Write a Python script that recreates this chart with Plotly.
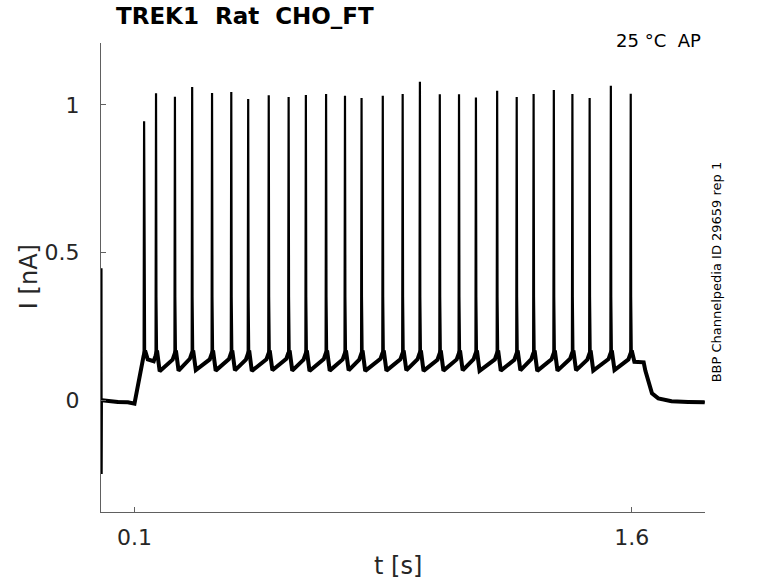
import plotly.graph_objects as go

# ---- data ----
# initial capacitive transient and pre-step baseline
pre_t = [0.0004, 0.0009, 0.0016, 0.02, 0.05, 0.08, 0.1]
pre_i = [0.447, -0.25, 0.0, -0.003, -0.006, -0.007, -0.012]

# action-potential peaks
spike_t = [0.129, 0.165, 0.222, 0.274, 0.334, 0.392, 0.443, 0.505, 0.565,
           0.617, 0.678, 0.735, 0.785, 0.849, 0.909, 0.961, 1.021, 1.079,
           1.130, 1.194, 1.253, 1.304, 1.365, 1.421, 1.473, 1.537, 1.597]
spike_peak = [0.945, 1.040, 1.028, 1.061, 1.041, 1.044, 1.020, 1.033, 1.027,
              1.034, 1.037, 1.031, 1.024, 1.031, 1.037, 1.079, 1.036, 1.036,
              1.025, 1.048, 1.027, 1.037, 1.051, 1.037, 1.024, 1.065, 1.038]
# current level just after each spike (after-hyperpolarisation trough)
spike_trough = [0.138, 0.098, 0.100, 0.102, 0.100, 0.101, 0.099, 0.101, 0.100,
                0.099, 0.100, 0.101, 0.099, 0.100, 0.101, 0.099, 0.100, 0.101,
                0.099, 0.100, 0.101, 0.099, 0.100, 0.101, 0.100, 0.102, 0.130]
# level reached just before each spike
spike_base = [0.150, 0.150, 0.155, 0.158, 0.156, 0.157, 0.155, 0.156, 0.158,
              0.155, 0.157, 0.156, 0.155, 0.158, 0.156, 0.157, 0.155, 0.156,
              0.157, 0.156, 0.155, 0.157, 0.156, 0.158, 0.155, 0.157, 0.156]

# step offset / decay back to baseline
post_t = [1.636, 1.641, 1.650, 1.661, 1.680, 1.720, 1.770, 1.820]
post_i = [0.128, 0.100, 0.068, 0.023, 0.006, -0.004, -0.006, -0.007]

x_ticks = [0.1, 1.6]
x_tick_text = ["0.1", "1.6"]
y_ticks = [0, 0.5, 1]
y_tick_text = ["0", "0.5", "1"]

title_text = "TREK1\u00a0\u00a0Rat\u00a0\u00a0CHO_FT"
temp_text = "25 °C\u00a0\u00a0AP"
side_text = "BBP Channelpedia ID 29659 rep 1"

# ---- assemble the trace from the read values ----
xs = list(pre_t)
ys = list(pre_i)
# baseline-only copy (no spike tips), drawn thicker to mimic the recording noise band
bx = list(pre_t[2:])
by = list(pre_i[2:])
n = len(spike_t)
for k in range(n):
    t = spike_t[k]
    if k > 0:
        xs += [t - 0.007]
        ys += [spike_base[k] - 0.018]
        bx += [t - 0.007]
        by += [spike_base[k] - 0.018]
    xs += [t - 0.0015, t, t + 0.0012, t + 0.003, t + 0.011]
    ys += [spike_base[k], spike_peak[k], 0.35, 0.168, spike_trough[k]]
    bx += [t - 0.0015, t + 0.003, t + 0.011]
    by += [spike_base[k], 0.168, spike_trough[k]]
xs += post_t
ys += post_i
bx += post_t
by += post_i

fig = go.Figure()
fig.add_trace(go.Scatter(
    x=bx, y=by, mode="lines",
    line=dict(color="black", width=4),
    hoverinfo="skip", showlegend=False,
))
fig.add_trace(go.Scatter(
    x=xs, y=ys, mode="lines",
    line=dict(color="black", width=2.2),
    hoverinfo="skip", showlegend=False,
))

axis_col = "#606060"
tick_font = dict(family="DejaVu Sans", size=22, color="#262626")

fig.update_layout(
    width=778, height=583,
    margin=dict(l=101, r=73, t=43, b=71),
    paper_bgcolor="white", plot_bgcolor="white",
    xaxis=dict(
        range=[-0.001, 1.821], showgrid=False, zeroline=False,
        showline=True, linecolor=axis_col, linewidth=1,
        ticks="inside", ticklen=5, tickcolor=axis_col,
        tickvals=x_ticks, ticktext=x_tick_text, tickfont=tick_font,
        ticklabelstandoff=6,
    ),
    yaxis=dict(
        range=[-0.379, 1.21], showgrid=False, zeroline=False,
        showline=True, linecolor=axis_col, linewidth=1,
        ticks="inside", ticklen=5, tickcolor=axis_col,
        tickvals=y_ticks, ticktext=y_tick_text, tickfont=tick_font,
        ticklabelstandoff=16,
    ),
    annotations=[
        dict(text=title_text, xref="paper", yref="paper", x=0.022, y=1.0,
             xanchor="left", yanchor="bottom", yshift=12, showarrow=False,
             font=dict(family="DejaVu Sans", size=23, color="black", weight="bold")),
        dict(text=temp_text, xref="paper", yref="paper", x=0.997, y=1.0,
             xanchor="right", yanchor="middle", yshift=3, showarrow=False,
             font=dict(family="DejaVu Sans", size=18, color="black")),
        dict(text=side_text, xref="paper", yref="paper", x=1.019, y=0.512,
             xanchor="center", yanchor="middle", textangle=-90, showarrow=False,
             font=dict(family="DejaVu Sans", size=13, color="black")),
        dict(text="I [nA]", xref="paper", yref="paper", x=-0.119, y=0.501,
             xanchor="center", yanchor="middle", textangle=-90, showarrow=False,
             font=dict(family="DejaVu Sans", size=24, color="#262626")),
        dict(text="t [s]", xref="paper", yref="paper", x=0.492, y=-0.115,
             xanchor="center", yanchor="middle", showarrow=False,
             font=dict(family="DejaVu Sans", size=24, color="#262626")),
    ],
)

fig.write_html(
    "out.html",
    config={"displayModeBar": False},
    post_script="document.body.style.margin='0';document.body.style.overflow='hidden';",
)
